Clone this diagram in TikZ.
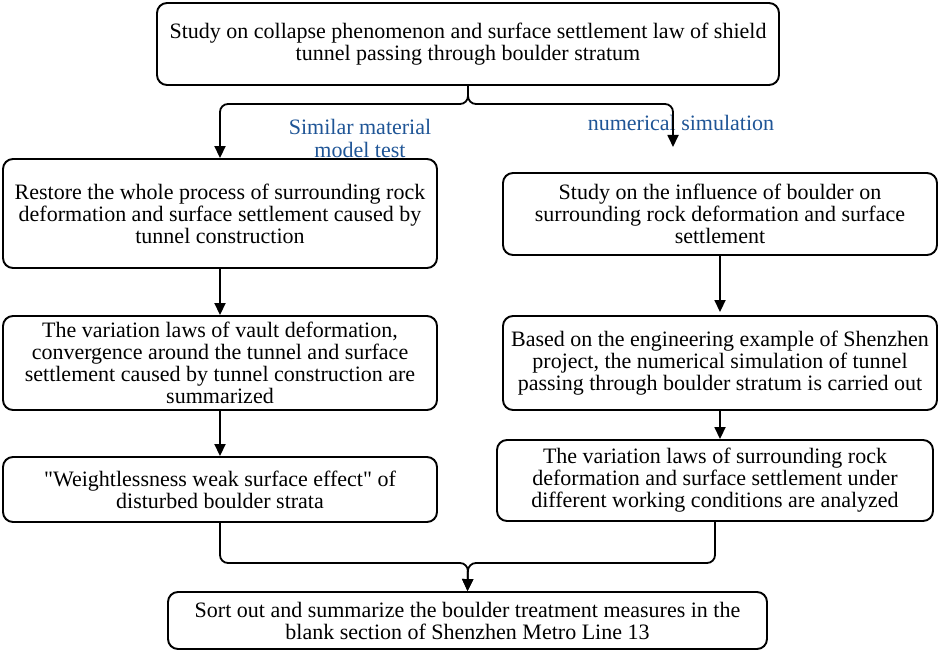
\documentclass[tikz,border=0pt]{standalone}
\usepackage{fontspec}
\setmainfont{Liberation Serif}[Ligatures=TeXOff]
\usepackage{tikz}
\usetikzlibrary{arrows.meta}
\definecolor{labelblue}{HTML}{1F5596}

\begin{document}
\begin{tikzpicture}[x=1pt, y=-1pt,
    stagebox/.style={draw, rounded corners=10pt, line width=1.9pt, align=center, inner sep=0pt, font=\fontsize{22}{22}\selectfont},
    flow/.style={line width=1.8pt, -{Triangle[length=12pt,width=11pt]}},
    branch/.style={line width=1.8pt, rounded corners=8pt},
    methodlabel/.style={text=labelblue, align=center, font=\fontsize{22}{23}\selectfont}]

        \useasboundingbox (0,0) rectangle (941,652);

        % Research topic
        \node[stagebox, minimum width=622pt, minimum height=82pt] (study) at (468,44)
            {Study on collapse phenomenon and surface settlement law of shield\\tunnel passing through boulder stratum};

        % Model test branch
        \node[stagebox, minimum width=434pt, minimum height=109pt] (restore) at (220,213.5)
            {Restore the whole process of surrounding rock\\deformation and surface settlement caused by\\tunnel construction};
        \node[stagebox, minimum width=434pt, minimum height=94pt] (vault) at (220,363)
            {The variation laws of vault deformation,\\convergence around the tunnel and surface\\settlement caused by tunnel construction are\\summarized};
        \node[stagebox, minimum width=434pt, minimum height=65pt] (weak) at (220,489.5)
            {"Weightlessness weak surface effect" of\\disturbed boulder strata};

        % Simulation branch
        \node[stagebox, minimum width=434pt, minimum height=82pt] (influence) at (720,214)
            {Study on the influence of boulder on\\surrounding rock deformation and surface\\settlement};
        \node[stagebox, minimum width=434pt, minimum height=94pt] (shenzhen) at (720,363)
            {Based on the engineering example of Shenzhen\\project, the numerical simulation of tunnel\\passing through boulder stratum is carried out};
        \node[stagebox, minimum width=436pt, minimum height=81pt] (conditions) at (715,480.5)
            {The variation laws of surrounding rock\\deformation and surface settlement under\\different working conditions are analyzed};

        % Conclusion
        \node[stagebox, minimum width=599pt, minimum height=57pt] (measures) at (467.5,620.5)
            {Sort out and summarize the boulder treatment measures in the\\blank section of Shenzhen Metro Line 13};

        % Method labels
        \node[methodlabel] (testlabel) at (360,138) {Similar material\\model test};
        \node[methodlabel] (simlabel) at (681,123) {numerical simulation};

        % Split and merge points
        \coordinate (split) at (468,104);
        \coordinate (simtip) at (673,147);
        \coordinate (merge) at (468,563);

        % Split
        \draw[branch, flow] (study.south) -- (split) -| (restore.north);
        \draw[branch, flow] (study.south) -- (split) -| (simtip);

        % Steps
        \draw[flow] (restore) -- (vault);
        \draw[flow] (vault) -- (weak);
        \draw[flow] (influence.south) -- ([yshift=3pt]influence.south |- shenzhen.north);
        \draw[flow] (shenzhen.south) -- (shenzhen.south |- conditions.north);

        % Merge
        \draw[branch, flow] (weak.south) |- (merge) -- (measures.north);
        \draw[branch, flow] (conditions.south) |- (merge) -- (measures.north);
       \end{tikzpicture}
\end{document}
